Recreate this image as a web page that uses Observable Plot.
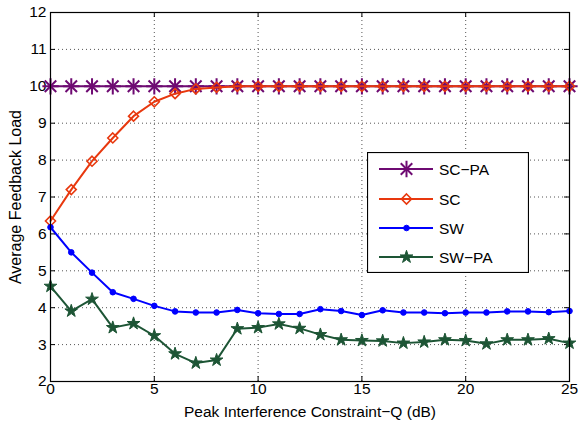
<!DOCTYPE html>
<html><head><meta charset="utf-8">
<script src="https://cdn.jsdelivr.net/npm/d3@7"></script>
<script src="https://cdn.jsdelivr.net/npm/@observablehq/plot@0.6"></script>
<style>
body{margin:0;background:#fff;}
#wrap{position:relative;width:578px;height:421px;font-family:"Liberation Sans",Arial,sans-serif;}
#legend{position:absolute;left:367px;top:152px;}
</style></head><body><div id="wrap"></div>
<script>
// ---- data ----
const Q = [0,1,2,3,4,5,6,7,8,9,10,11,12,13,14,15,16,17,18,19,20,21,22,23,24,25];
const seriesNames = ["SC\u2212PA","SC","SW","SW\u2212PA"];
const scpa = [10,10,10,10,10,10,10,10,10,10,10,10,10,10,10,10,10,10,10,10,10,10,10,10,10,10];
const sc   = [6.35,7.2,7.97,8.6,9.19,9.58,9.8,9.93,9.97,10,10,10,10,10,10,10,10,10,10,10,10,10,10,10,10,10];
const sw   = [6.18,5.5,4.95,4.42,4.24,4.05,3.9,3.87,3.87,3.94,3.85,3.83,3.83,3.96,3.91,3.8,3.93,3.87,3.87,3.85,3.87,3.87,3.9,3.9,3.88,3.91];
const swpa = [4.58,3.91,4.23,3.46,3.57,3.24,2.75,2.5,2.58,3.43,3.46,3.56,3.44,3.27,3.13,3.11,3.1,3.04,3.07,3.13,3.11,3.02,3.13,3.13,3.16,3.04];
const xTicks = [0,5,10,15,20,25];
const yTicks = [2,3,4,5,6,7,8,9,10,11,12];
const xLabel = "Peak Interference Constraint\u2212Q (dB)";
const yLabel = "Average Feedback Load";

// ---- styles ----
const colors = ["#6e0a72","#e8380e","#0000ff","#1d5535"];
const W = 578, H = 421, mL = 50, mR = 9, mT = 12, mB = 40;
const innerW = W - mL - mR, innerH = H - mT - mB;
const tick = 5;

const all = [scpa, sc, sw, swpa];
const rows = [];
seriesNames.forEach((s, i) => Q.forEach((q, j) => rows.push({q, v: all[i][j], s})));
const by = s => rows.filter(d => d.s === s);

const markerSpecs = [
  [{symbol: "plus", r: 5.3, fill: "none", strokeWidth: 2}, {symbol: "times", r: 5.3, fill: "none", strokeWidth: 2}],
  [{symbol: "diamond2", r: 4.5, fill: "none", strokeWidth: 1.6}],
  [{symbol: "circle", r: 2.8, fill: colors[2], strokeWidth: 1}],
  [{symbol: "star", r: 4, fill: colors[3], strokeWidth: 1}]
];

const seriesMarks = [];
seriesNames.forEach((s, i) => {
  seriesMarks.push(Plot.line(by(s), {x: "q", y: "v", stroke: colors[i], strokeWidth: 2}));
  markerSpecs[i].forEach(m => seriesMarks.push(Plot.dot(by(s), {x: "q", y: "v", stroke: colors[i], ...m})));
});

const chart = Plot.plot({
  width: W, height: H, marginLeft: mL, marginRight: mR, marginTop: mT, marginBottom: mB,
  style: {fontFamily: "'Liberation Sans', Arial, sans-serif", fontSize: "15.5px", color: "#000", background: "#fff", overflow: "visible"},
  x: {domain: [0, 25]},
  y: {domain: [2, 12]},
  marks: [
    Plot.gridX(xTicks, {stroke: "#555", strokeOpacity: 1, strokeDasharray: "1,3", strokeWidth: 1}),
    Plot.gridY(yTicks, {stroke: "#555", strokeOpacity: 1, strokeDasharray: "1,3", strokeWidth: 1}),
    Plot.ruleX(xTicks, {x: d => d, insetTop: innerH - tick, stroke: "#000"}),
    Plot.ruleX(xTicks, {x: d => d, insetBottom: innerH - tick, stroke: "#000"}),
    Plot.ruleY(yTicks, {y: d => d, insetRight: innerW - tick, stroke: "#000"}),
    Plot.ruleY(yTicks, {y: d => d, insetLeft: innerW - tick, stroke: "#000"}),
    Plot.axisX({ticks: xTicks, tickSize: 0, tickPadding: 1, label: null, fontSize: 15.5}),
    Plot.axisY({ticks: yTicks, tickSize: 0, tickPadding: 4, label: null, fontSize: 15.5}),
    Plot.text([xLabel], {text: d => d, frameAnchor: "bottom", textAnchor: "middle", lineAnchor: "bottom", dy: 35, fontSize: 15.5}),
    Plot.text([yLabel], {text: d => d, frameAnchor: "left", textAnchor: "middle", lineAnchor: "middle", rotate: -90, dx: -35, fontSize: 16}),
    ...seriesMarks,
    Plot.frame({stroke: "#000", strokeWidth: 1.2})
  ]
});
const wrap = document.getElementById("wrap");
wrap.appendChild(chart);

// ---- legend (inside plot area) ----
const LW = 162, LH = 121;
const leg = d3.select(wrap).append("svg").attr("id", "legend")
  .attr("width", LW).attr("height", LH);
leg.append("rect").attr("x", 0.5).attr("y", 0.5).attr("width", LW - 1).attr("height", LH - 1)
  .attr("fill", "#fff").attr("stroke", "#000").attr("stroke-width", 1.2);
const rowY = [17, 47, 76, 105];
const symMap = {plus: d3.symbolPlus, times: d3.symbolTimes, diamond2: d3.symbolDiamond2, circle: d3.symbolCircle, star: d3.symbolStar};
seriesNames.forEach((s, i) => {
  const g = leg.append("g").attr("transform", `translate(0,${rowY[i]})`);
  g.append("line").attr("x1", 12).attr("x2", 66).attr("y1", 0).attr("y2", 0)
    .attr("stroke", colors[i]).attr("stroke-width", 2);
  markerSpecs[i].forEach(m => {
    g.append("path").attr("transform", "translate(39.5,0)")
      .attr("d", d3.symbol(symMap[m.symbol], m.r * m.r * Math.PI)())
      .attr("fill", m.fill).attr("stroke", colors[i]).attr("stroke-width", m.strokeWidth);
  });
  g.append("text").attr("x", 72).attr("y", 0).attr("dy", "0.36em")
    .attr("font-family", "'Liberation Sans', Arial, sans-serif").attr("font-size", 15.5)
    .attr("fill", "#000").text(s);
});
</script></body></html>
